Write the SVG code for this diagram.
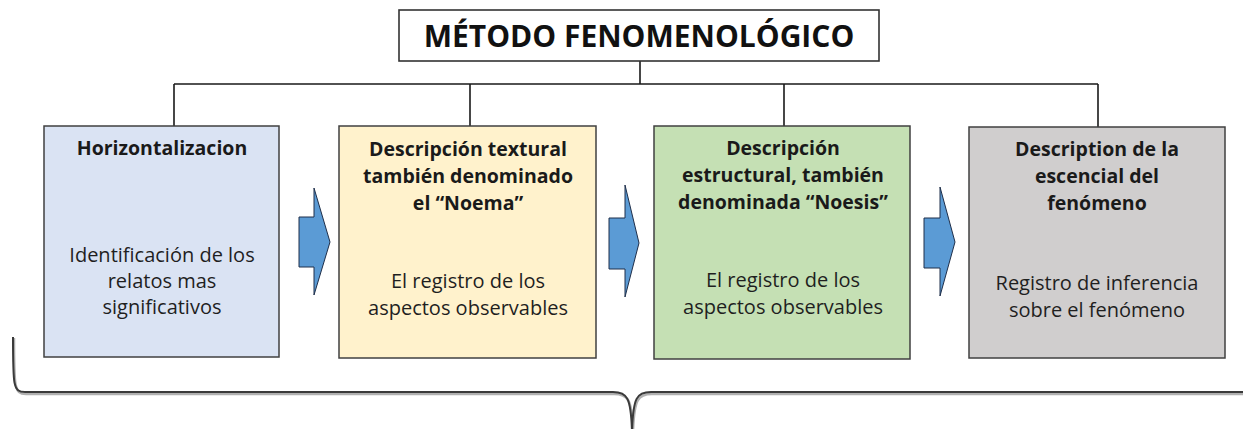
<svg xmlns="http://www.w3.org/2000/svg" width="1243" height="429" viewBox="0 0 1243 429">
<style>
.box{stroke:#404040;stroke-width:1.5}
.hd{font-family:"Open Sans","Noto Sans",sans-serif;font-weight:bold;font-size:19.5px;fill:#1a1a1a;text-anchor:middle}
.bd{font-family:"Open Sans","Noto Sans",sans-serif;font-size:20px;fill:#1f1f1f;text-anchor:middle}
.ln{stroke:#1a1a1a;stroke-width:1.6;fill:none}
.arr{fill:#5b9bd5;stroke:#1f2f4a;stroke-width:1}
</style>
<rect width="1243" height="429" fill="#ffffff"/>
<g id="connectors">
<path class="ln" d="M640 61 V84 M174 84 H1098 M174 84 V126 M470 84 V126 M784 84 V126 M1098 84 V127"/>
<polygon class="arr" points="299,217 314,217 314,188 330,242 314,295 314,267 299,267"/>
<polygon class="arr" points="609,218 625,218 625,185 639,243 625,297 625,269 609,269"/>
<polygon class="arr" points="924,218 940,218 940,187 955,242 940,296 940,268 924,268"/>
<path d="M14 338 C14 386 14 394 26 394 L614 394 C628 394 632 399 633 432 C634 399 638 394 652 394 L1245 394" fill="none" stroke="#b0b0b0" stroke-width="2.5"/>
<path d="M13 337 C13 385 13 392 25 392 L613 392 C627 392 631 397 632 432 C633 397 637 392 651 392 L1245 392" fill="none" stroke="#3a3a3a" stroke-width="2"/>
</g>
<g id="title">
<rect x="399" y="10" width="480" height="51" fill="#ffffff" stroke="#333" stroke-width="1.6"/>
<text x="639" y="47" font-family="'Open Sans','Noto Sans',sans-serif" font-weight="bold" font-size="30" fill="#111" text-anchor="middle">MÉTODO FENOMENOLÓGICO</text>
</g>
<g id="node1">
<rect class="box" x="44" y="126" width="235" height="231" fill="#dae3f3"/>
<text class="hd" x="162" y="155">Horizontalizacion</text>
<text class="bd" x="162" y="262">Identificación de los</text>
<text class="bd" x="162" y="288">relatos mas</text>
<text class="bd" x="162" y="314">significativos</text>
</g>
<g id="node2">
<rect class="box" x="339" y="126" width="257" height="232" fill="#fff2cc"/>
<text class="hd" x="468" y="156">Descripción textural</text>
<text class="hd" x="468" y="183">también denominado</text>
<text class="hd" x="468" y="210">el “Noema”</text>
<text class="bd" x="468" y="288">El registro de los</text>
<text class="bd" x="468" y="315">aspectos observables</text>
</g>
<g id="node3">
<rect class="box" x="654" y="126" width="256" height="233" fill="#c5e0b4"/>
<text class="hd" x="783" y="155">Descripción</text>
<text class="hd" x="783" y="182">estructural, también</text>
<text class="hd" x="783" y="209">denominada “Noesis”</text>
<text class="bd" x="783" y="287">El registro de los</text>
<text class="bd" x="783" y="314">aspectos observables</text>
</g>
<g id="node4">
<rect class="box" x="969" y="127" width="256" height="231" fill="#d0cece"/>
<text class="hd" x="1097" y="156">Description de la</text>
<text class="hd" x="1097" y="183">escencial del</text>
<text class="hd" x="1097" y="210">fenómeno</text>
<text class="bd" x="1097" y="290">Registro de inferencia</text>
<text class="bd" x="1097" y="317">sobre el fenómeno</text>
</g>
</svg>
